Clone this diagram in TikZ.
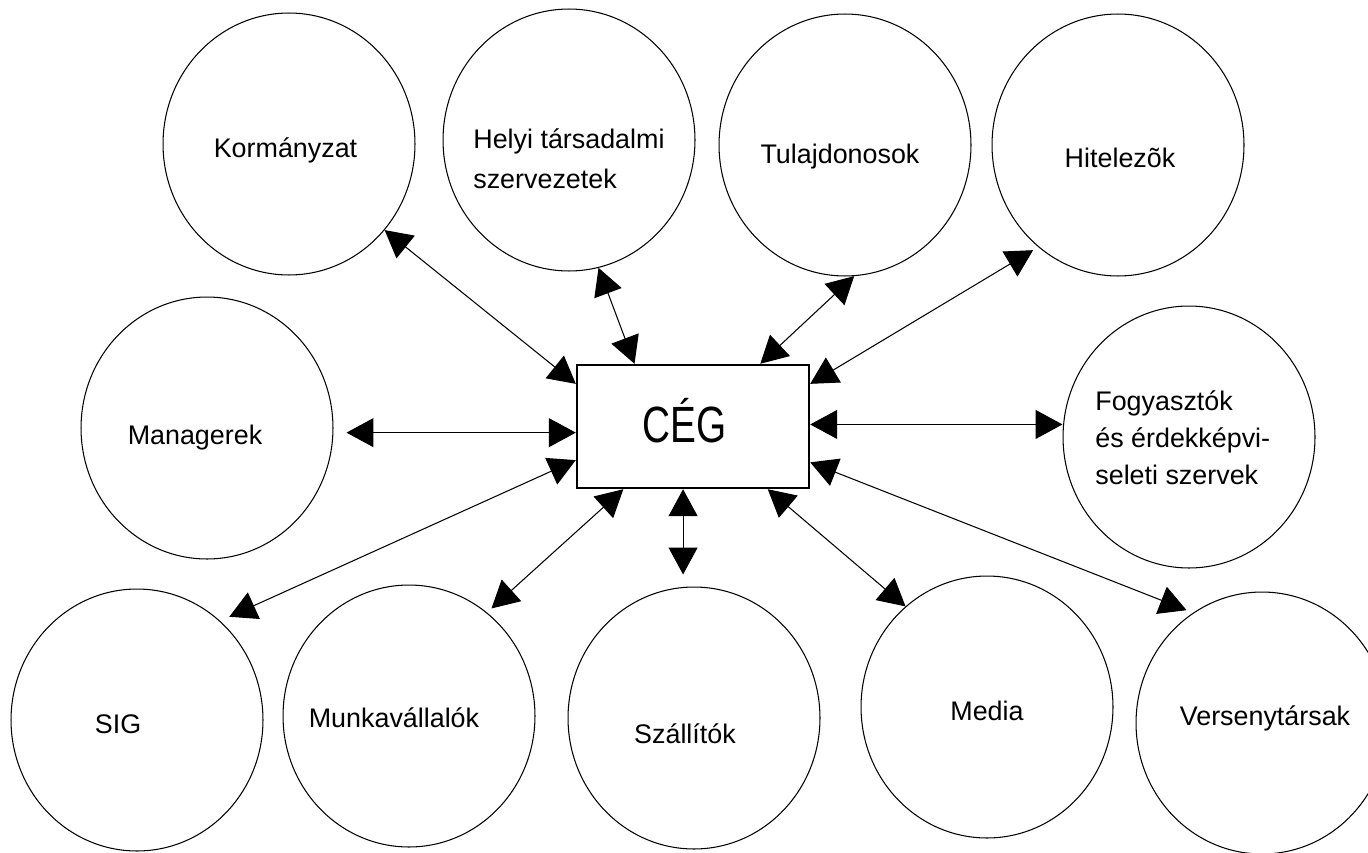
\documentclass[tikz,border=0pt]{standalone}
\usepackage{fontspec}
\setmainfont{Liberation Sans}
\usepackage{graphicx}
\usetikzlibrary{arrows.meta,shapes.geometric}
\begin{document}
\begin{tikzpicture}[x=0.02cm,y=-0.02cm,
  circ/.style={draw,line width=0.6pt,ellipse,inner sep=0pt,minimum width=5.04cm,minimum height=5.24cm},
  lbl/.style={font=\fontsize{15.3}{22.7}\selectfont,inner sep=0pt,anchor=base},
  cegbox/.style={draw,line width=1.4pt,rectangle,inner sep=0pt,minimum width=4.64cm,minimum height=2.46cm},
  link/.style={line width=0.6pt,{Triangle[length=0.54cm,width=0.58cm]}-{Triangle[length=0.54cm,width=0.58cm]}}]
\clip (0,0) rectangle (1368,852);
\fill[white] (0,0) rectangle (1368,852);
% circles
\node[circ] (kor) at (289,144) {};
\node[circ] (hel) at (569,140) {};
\node[circ] (tul) at (845,145) {};
\node[circ] (hit) at (1118,145) {};
\node[circ] (man) at (207,428) {};
\node[circ] (fog) at (1189,437) {};
\node[circ] (sig) at (137,720) {};
\node[circ] (mun) at (409,716) {};
\node[circ] (sza) at (694,718) {};
\node[circ] (med) at (987,707) {};
\node[circ] (ver) at (1262,723) {};
\node[cegbox] (ceg) at (693,426.5) {};
% labels
\node[lbl] (korT) at (285.5,157) {Kormányzat};
\node[lbl,align=left,anchor=base west] (helT) at (473,188) {Helyi társadalmi\\szervezetek};
\node[lbl] (tulT) at (840,163) {Tulajdonosok};
\node[lbl] (hitT) at (1120,167) {Hitelezõk};
\node[lbl] (manT) at (195,444) {Managerek};
\node[lbl,align=left,anchor=base west,font=\fontsize{15.3}{21}\selectfont] (fogT) at (1095,484) {Fogyasztók\\és érdekképvi-\\seleti szervek};
\node[lbl] (sigT) at (118,733) {SIG};
\node[lbl] (munT) at (394,727) {Munkavállalók};
\node[lbl] (szaT) at (685,743) {Szállítók};
\node[lbl] (medT) at (987,720) {Media};
\node[lbl] (verT) at (1265,725) {Versenytársak};
\node[anchor=base,inner sep=0pt] (cegT) at (684.5,442) {\fontsize{29}{29}\selectfont\scalebox{0.76}[1]{CÉG}};
% connectors
\draw[link] (ceg.160) -- (kor.-42.5);
\draw[link] (ceg.133) -- (hel.-77.7);
\draw[link] (ceg.43) -- (tul.-86);
\draw[link,shorten >=0.12cm] (ceg.20) -- (hit.232.5);
\draw[link,shorten >=0.26cm] (ceg.183) -- (ceg.183 -| man.east);
\draw[link] (ceg.1.5) -- (ceg.1.5 -| fog.west);
\draw[link,shorten >=0.2cm] (ceg.196) -- (sig.50.6);
\draw[link,shorten >=0.12cm] (ceg.222) -- (mun.53.5);
\draw[link,shorten >=0.24cm] (ceg.261) -- (ceg.261 |- sza.north);
\draw[link] (ceg.-40) -- (med.129.8);
\draw[link,shorten >=0.14cm] (ceg.-17.5) -- (ver.122.2);
\end{tikzpicture}
\end{document}
